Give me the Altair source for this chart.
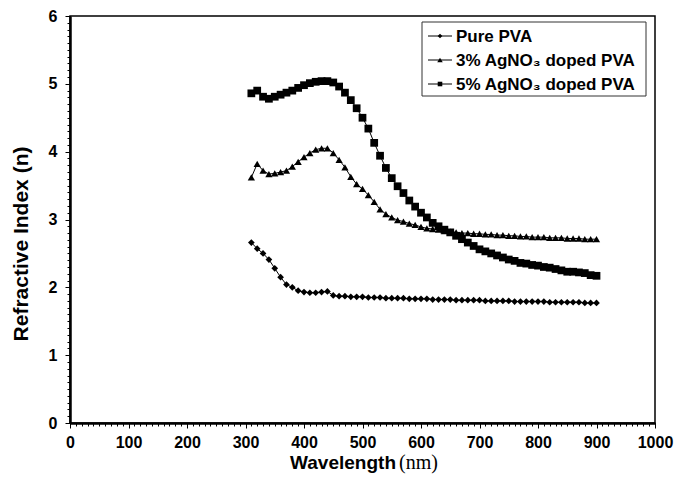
import altair as alt
import pandas as pd

wavelength = list(range(310, 901, 10))

pure_pva = [2.66, 2.57, 2.50, 2.41, 2.28, 2.15, 2.04, 2.00, 1.95, 1.93,
            1.92, 1.92, 1.93, 1.94, 1.88, 1.87, 1.87, 1.86, 1.86, 1.86,
            1.85, 1.85, 1.85, 1.84, 1.84, 1.84, 1.84, 1.83, 1.83, 1.83,
            1.83, 1.82, 1.82, 1.82, 1.82, 1.81, 1.81, 1.81, 1.81, 1.81,
            1.80, 1.80, 1.80, 1.80, 1.80, 1.79, 1.79, 1.79, 1.79, 1.79,
            1.79, 1.78, 1.78, 1.78, 1.78, 1.78, 1.78, 1.77, 1.77, 1.77]

agno3_3 = [3.62, 3.82, 3.72, 3.67, 3.68, 3.70, 3.72, 3.78, 3.85, 3.92,
           3.98, 4.03, 4.05, 4.05, 3.98, 3.88, 3.77, 3.63, 3.52, 3.45,
           3.36, 3.26, 3.15, 3.08, 3.03, 2.99, 2.97, 2.94, 2.92, 2.89,
           2.87, 2.86, 2.85, 2.83, 2.82, 2.81, 2.80, 2.80, 2.79, 2.79,
           2.78, 2.78, 2.77, 2.77, 2.76, 2.76, 2.75, 2.75, 2.74, 2.74,
           2.74, 2.73, 2.73, 2.73, 2.72, 2.72, 2.72, 2.71, 2.71, 2.71]

agno3_5 = [4.86, 4.90, 4.81, 4.78, 4.81, 4.84, 4.87, 4.90, 4.94, 4.98,
           5.01, 5.03, 5.04, 5.04, 5.02, 4.96, 4.87, 4.76, 4.64, 4.50,
           4.34, 4.13, 3.94, 3.76, 3.61, 3.49, 3.39, 3.28, 3.19, 3.10,
           3.03, 2.95, 2.90, 2.85, 2.81, 2.76, 2.71, 2.66, 2.61, 2.56,
           2.53, 2.50, 2.47, 2.44, 2.41, 2.39, 2.36, 2.35, 2.33, 2.32,
           2.30, 2.29, 2.27, 2.25, 2.23, 2.23, 2.22, 2.21, 2.18, 2.17]

series_names = ["Pure PVA", "3% AgNO\u2083 doped PVA", "5% AgNO\u2083 doped PVA"]
series_values = [pure_pva, agno3_3, agno3_5]
shapes = ["diamond", "triangle-up", "square"]
sizes = [45, 60, 42]

x_major = list(range(0, 1001, 100))
x_minor = list(range(0, 1001, 10))
y_major = [0, 1, 2, 3, 4, 5, 6]
y_minor = [round(i * 0.1, 1) for i in range(61)]

rows = []
for name, vals in zip(series_names, series_values):
    for w, v in zip(wavelength, vals):
        rows.append({"wavelength": w, "n": v, "series": name})
df = pd.DataFrame(rows)

SANS = "Liberation Sans"
SERIF = "Liberation Serif"

xscale = alt.Scale(domain=[0, 1000], nice=False)
yscale = alt.Scale(domain=[0, 6], nice=False)
shape_scale = alt.Scale(domain=series_names, range=shapes)
size_scale = alt.Scale(domain=series_names, range=sizes)

base = alt.Chart(df)

lines = base.mark_line(color="black", strokeWidth=1).encode(
    x=alt.X("wavelength:Q", scale=xscale,
            axis=alt.Axis(values=x_major, orient="bottom", title=None, grid=False,
                          format="d",
                          labelFont=SANS, labelFontWeight="bold", labelFontSize=16,
                          labelColor="black", labelPadding=6, tickSize=5,
                          tickColor="black", tickWidth=1, domainColor="black",
                          domainWidth=2, labelFlush=False)),
    y=alt.Y("n:Q", scale=yscale,
            axis=alt.Axis(values=y_major, orient="left", title=None, grid=False,
                          format="d",
                          labelFont=SANS, labelFontWeight="bold", labelFontSize=16,
                          labelColor="black", labelPadding=8, tickSize=5,
                          tickColor="black", tickWidth=1, domainColor="black",
                          domainWidth=2, labelFlush=False)),
    detail="series:N",
)

points = base.mark_point(filled=True, color="black", opacity=1).encode(
    x=alt.X("wavelength:Q", scale=xscale,
            axis=alt.Axis(values=x_minor, orient="bottom", title=None, grid=False,
                          labels=False, tickSize=3, tickColor="black",
                          tickWidth=1, domainColor="black", domainWidth=2)),
    y=alt.Y("n:Q", scale=yscale,
            axis=alt.Axis(values=y_minor, orient="left", title=None, grid=False,
                          labels=False, tickSize=3, tickColor="black",
                          tickWidth=1, domainColor="black", domainWidth=2)),
    shape=alt.Shape("series:N", scale=shape_scale, legend=None),
    size=alt.Size("series:N", scale=size_scale, legend=None),
)

# axis titles
one = pd.DataFrame({"k": [0]})
ytitle = alt.Chart(one).mark_text(
    text="Refractive Index (n)", font=SANS, fontWeight="bold", fontSize=21,
    angle=270, align="center", baseline="middle", color="black"
).encode(x=alt.value(-48), y=alt.value(228))
xtitle1 = alt.Chart(one).mark_text(
    text="Wavelength", font=SANS, fontWeight="bold", fontSize=19,
    align="right", baseline="alphabetic", color="black"
).encode(x=alt.value(326), y=alt.value(453))
xtitle2 = alt.Chart(one).mark_text(
    text="(nm)", font=SERIF, fontSize=20,
    align="left", baseline="alphabetic", color="black"
).encode(x=alt.value(329), y=alt.value(453))

# legend
legend_layers = []
legend_layers.append(
    alt.Chart(one).mark_rect(fill="white", stroke="#333333", strokeWidth=1).encode(
        x=alt.value(352), x2=alt.value(576), y=alt.value(6), y2=alt.value(80))
)
row_y = [20, 44, 68]
for name, shp, sz, ry in zip(series_names, shapes, sizes, row_y):
    legend_layers.append(
        alt.Chart(one).mark_rule(color="black", strokeWidth=1).encode(
            x=alt.value(358), x2=alt.value(382), y=alt.value(ry)))
    legend_layers.append(
        alt.Chart(one).mark_point(filled=True, color="black", opacity=1,
                                  shape=shp, size=sz * 0.5).encode(
            x=alt.value(370), y=alt.value(ry)))
    legend_layers.append(
        alt.Chart(one).mark_text(text=name, font=SANS, fontWeight="bold",
                                 fontSize=17, align="left", baseline="middle",
                                 color="black").encode(
            x=alt.value(386), y=alt.value(ry + 1)))

chart = alt.layer(lines, points, ytitle, xtitle1, xtitle2, *legend_layers).resolve_axis(
    x="independent", y="independent"
).properties(
    width=585, height=407,
    padding={"left": 70, "top": 16, "right": 31, "bottom": 64},
    autosize=alt.AutoSizeParams(type="none"),
    background="white",
).configure_view(stroke="black", strokeWidth=1.5)

chart.save("out.html", embed_options={"renderer": "svg", "actions": False})
